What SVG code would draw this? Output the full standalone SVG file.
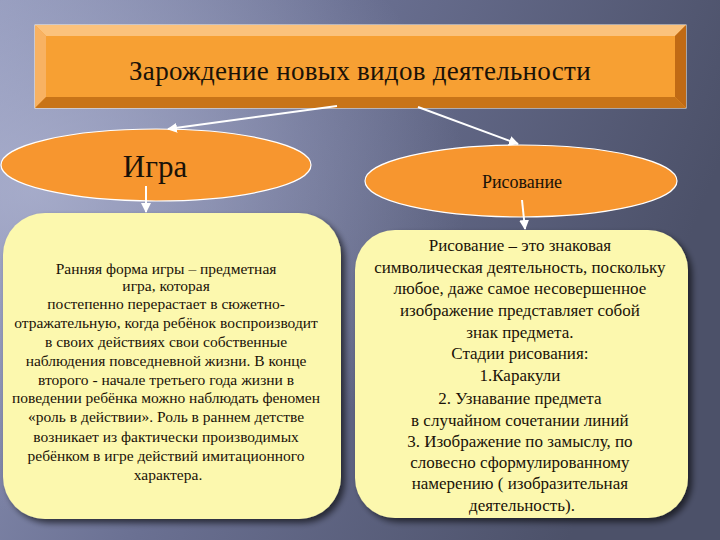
<svg xmlns="http://www.w3.org/2000/svg" width="720" height="540" viewBox="0 0 720 540">
<defs>
<linearGradient id="bg" x1="0" y1="0" x2="1" y2="0.3">
<stop offset="0" stop-color="#8e95b8"/>
<stop offset="0.45" stop-color="#6a7092"/>
<stop offset="1" stop-color="#4c5169"/>
</linearGradient>
<radialGradient id="glow" cx="0.05" cy="0.35" r="0.6">
<stop offset="0" stop-color="#b4b9d6" stop-opacity="0.7"/>
<stop offset="1" stop-color="#b4b9d6" stop-opacity="0"/>
</radialGradient>
<marker id="ah" viewBox="0 0 10 10" refX="9" refY="5" markerWidth="5" markerHeight="5" orient="auto">
<path d="M0,0 L10,5 L0,10 z" fill="#ffffff"/>
</marker>
<filter id="sh" x="-10%" y="-10%" width="130%" height="130%">
<feGaussianBlur in="SourceAlpha" stdDeviation="3"/>
<feOffset dx="4" dy="4"/>
<feComponentTransfer><feFuncA type="linear" slope="0.6"/></feComponentTransfer>
<feMerge><feMergeNode/><feMergeNode in="SourceGraphic"/></feMerge>
</filter>
</defs>
<style>
.t{font-family:'Liberation Serif','Times New Roman',serif;fill:#1a1208;text-anchor:middle}
.ell{fill:#f7962f;stroke:#ffffff;stroke-width:1.2}
.box{fill:#fcf8ae}
.con{stroke:#ffffff;stroke-width:2;fill:none;marker-end:url(#ah)}
.lt{font-size:15.5px}
.rt{font-size:17px}
</style>
<rect width="720" height="540" fill="url(#bg)"/>
<rect width="720" height="540" fill="url(#glow)"/>

<g id="title">
<rect x="35" y="25" width="651" height="83" fill="#f59a33" stroke="#fff3e0" stroke-width="1"/>
<polygon points="35,25 686,25 675,36 46,36" fill="#fbc27c"/>
<polygon points="35,25 46,36 46,97 35,108" fill="#f8b262"/>
<polygon points="686,25 686,108 675,97 675,36" fill="#c06a14"/>
<polygon points="35,108 686,108 675,97 46,97" fill="#c87418"/>
<rect x="46" y="36" width="629" height="61" fill="#f7a033"/>
<text class="t" x="360" y="80" font-size="27" letter-spacing="0.3">Зарождение новых видов деятельности</text>
</g>

<g id="igra">
<ellipse class="ell" cx="156" cy="165" rx="155" ry="36"/>
<text class="t" x="155" y="177" font-size="31">Игра</text>
</g>

<g id="risovanie">
<ellipse class="ell" cx="521" cy="181" rx="156" ry="36"/>
<text class="t" x="522" y="188" font-size="18">Рисование</text>
</g>

<g id="igra-text">
<rect class="box" x="3" y="213" width="338" height="306" rx="42" filter="url(#sh)"/>
<text class="t lt" x="168">
<tspan x="168" y="274">Ранняя форма игры – предметная</tspan>
<tspan x="168" y="291">игра, которая</tspan>
<tspan x="168" y="309">постепенно перерастает в сюжетно-</tspan>
<tspan x="168" y="328">отражательную, когда ребёнок воспроизводит</tspan>
<tspan x="168" y="347">в своих действиях  свои собственные</tspan>
<tspan x="168" y="366">наблюдения  повседневной жизни. В конце</tspan>
<tspan x="168" y="385">второго - начале третьего года жизни в</tspan>
<tspan x="168" y="403">поведении ребёнка можно наблюдать феномен</tspan>
<tspan x="168" y="422">«роль в действии». Роль в раннем детстве</tspan>
<tspan x="168" y="442">возникает из фактически производимых</tspan>
<tspan x="168" y="461">ребёнком в игре действий имитационного</tspan>
<tspan x="168" y="480">характера.</tspan>
</text>
</g>

<g id="risovanie-text">
<rect class="box" x="355" y="230" width="333" height="288" rx="40" filter="url(#sh)"/>
<text class="t rt" x="522">
<tspan x="522" y="251">Рисование – это знаковая</tspan>
<tspan x="522" y="273">символическая деятельность, поскольку</tspan>
<tspan x="522" y="294">любое, даже самое несовершенное</tspan>
<tspan x="522" y="316">изображение представляет собой</tspan>
<tspan x="522" y="338">знак предмета.</tspan>
<tspan x="522" y="359">Стадии рисования:</tspan>
<tspan x="522" y="381">1.Каракули</tspan>
<tspan x="522" y="404">2. Узнавание предмета</tspan>
<tspan x="522" y="426">в случайном сочетании линий</tspan>
<tspan x="522" y="447">3. Изображение по замыслу, по</tspan>
<tspan x="522" y="468">словесно сформулированному</tspan>
<tspan x="522" y="489">намерению ( изобразительная</tspan>
<tspan x="522" y="511">деятельность).</tspan>
</text>
</g>

<g id="connectors">
<line class="con" x1="337" y1="106" x2="168" y2="129"/>
<line class="con" x1="418" y1="107" x2="518" y2="144"/>
<line class="con" x1="146" y1="186" x2="146" y2="212"/>
<line class="con" x1="522" y1="200" x2="525" y2="229"/>
</g>
</svg>
